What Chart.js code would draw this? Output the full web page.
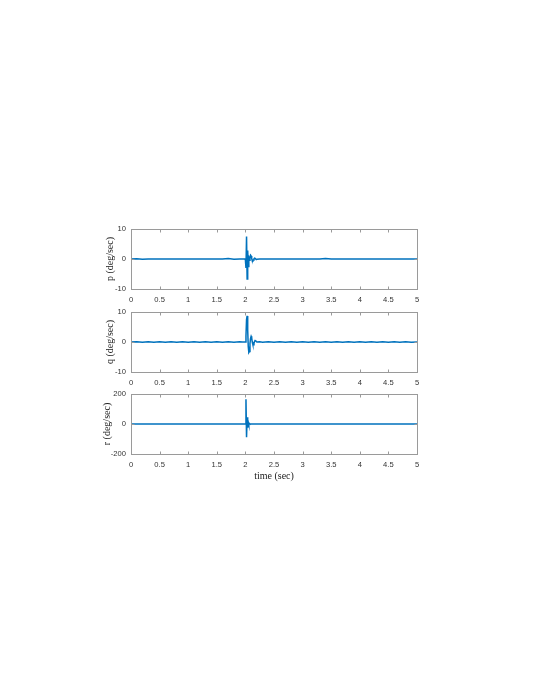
<!DOCTYPE html>
<html>
<head>
<meta charset="utf-8">
<script src="https://cdn.jsdelivr.net/npm/chart.js@4/dist/chart.umd.min.js"></script>
<style>
  html, body { margin: 0; padding: 0; background: #ffffff; }
  body { width: 536px; height: 693px; position: relative; overflow: hidden; }
  .panel { position: absolute; left: 0; width: 536px; }
</style>
</head>
<body>
<div class="panel" id="w0"><canvas id="c0"></canvas></div>
<div class="panel" id="w1"><canvas id="c1"></canvas></div>
<div class="panel" id="w2"><canvas id="c2"></canvas></div>
<script>
// ---- data ----
const time = [
  0, 0.1, 0.2, 0.3, 0.4, 0.5, 0.6, 0.7, 0.8, 0.9,
  1.0, 1.1, 1.2, 1.3, 1.4, 1.5, 1.6, 1.7, 1.8, 1.9,
  1.95, 1.99, 2.0, 2.01, 2.02, 2.03, 2.04, 2.05, 2.06, 2.07,
  2.08, 2.09, 2.1, 2.11, 2.12, 2.13, 2.14, 2.15, 2.16, 2.17,
  2.18, 2.2, 2.25, 2.3, 2.4, 2.5, 2.6, 2.7, 2.8, 2.9,
  3.0, 3.1, 3.2, 3.3, 3.4, 3.5, 3.6, 3.7, 3.8, 3.9,
  4.0, 4.1, 4.2, 4.3, 4.4, 4.5, 4.6, 4.7, 4.8, 4.9, 5.0
];
const pRate = [
  0, 0.05, -0.05, 0.03, -0.03, 0.03, 0, -0.03, 0.03, 0,
  0.03, -0.03, 0, 0.03, -0.03, 0.03, 0, 0.15, -0.05, 0.03,
  0, 0, -0.3, -3.0, 7.5, -6.7, 2.8, -2.5, 0.3, -0.4,
  0.8, 1.3, 1.0, 0.2, -0.5, -0.6, -0.3, 0.1, 0.3, 0.2,
  0, -0.1, 0.03, 0, -0.03, 0, 0.03, -0.03, 0, 0.03,
  -0.03, 0, 0.03, 0, 0.15, -0.03, 0, 0.03, -0.03, 0,
  0.03, 0, -0.03, 0, 0.03, 0, -0.03, 0, 0.03, 0, 0
];
const qRate = [
  0, 0.05, -0.05, 0.05, -0.05, 0.05, -0.05, 0.05, -0.05, 0.05,
  -0.05, 0.05, -0.05, 0.05, -0.05, 0.05, -0.05, 0.05, -0.05, 0.05,
  0, 0, 0, 2.0, 7.5, 8.7, 4.0, -1.5, -3.5, -3.2,
  -0.5, 1.2, 1.9, 1.4, 0, -0.8, -0.9, -0.4, 0.2, 0.5,
  0.4, 0, 0.05, -0.05, 0.05, -0.05, 0.05, -0.05, 0.05, -0.05,
  0.05, -0.05, 0.05, -0.05, 0.1, -0.05, 0.05, -0.05, 0.05, -0.05,
  0.05, -0.05, 0.05, -0.05, 0.05, -0.05, 0.05, -0.05, 0.05, -0.05, 0
];
const rRate = [
  0, 0, 0, 0, 0, 0, 0, 0, 0, 0,
  0, 0, 0, 0, 0, 0, 0, 0, 0, 0,
  0, 0, 0, 165, -88, 45, -25, 12, -5, 2,
  0, 0, 0, 0, 0, 0, 0, 0, 0, 0,
  0, 0, 0, 0, 0, 0, 0, 0, 0, 0,
  0, 0, 0, 0, 0, 0, 0, 0, 0, 0,
  0, 0, 0, 0, 0, 0, 0, 0, 0, 0, 0
];
const yLabels = ['p (deg/sec)', 'q (deg/sec)', 'r (deg/sec)'];
const yLimits = [[-10, 10], [-10, 10], [-200, 200]];
const yStep = [10, 10, 200];
const xLabel = 'time (sec)';
const xTickStep = 0.5;

// ---- layout / style ----
const panels = [
  { top: 229, h: 60, series: pRate, titlePad: 4, xTitle: false },
  { top: 312, h: 60, series: qRate, titlePad: 4, xTitle: false },
  { top: 394, h: 60, series: rRate, titlePad: 1, xTitle: true }
];
const lineColor = '#0072BD';
const boxColor = '#9a9a9a';
const tickColor = '#333333';
const tickFont = { family: '"Liberation Sans", Arial, sans-serif', size: 7.6 };
const titleFont = { family: '"Liberation Serif", "Times New Roman", serif', size: 10 };
const fmt = v => String(Math.round(v * 10) / 10);

const boxPlugin = {
  id: 'matlabBox',
  afterDraw(chart) {
    const { ctx, chartArea: a, scales } = chart;
    const tl = 3;
    const L = Math.round(a.left) + 0.5, R = Math.round(a.right) + 0.5;
    const T = Math.round(a.top) + 0.5, B = Math.round(a.bottom) + 0.5;
    ctx.save();
    ctx.strokeStyle = boxColor;
    ctx.lineWidth = 1;
    ctx.strokeRect(L, T, R - L, B - T);
    ctx.beginPath();
    scales.x.ticks.forEach(t => {
      const px = Math.round(scales.x.getPixelForValue(t.value)) + 0.5;
      ctx.moveTo(px, B); ctx.lineTo(px, B - tl);
      ctx.moveTo(px, T); ctx.lineTo(px, T + tl);
    });
    scales.y.ticks.forEach(t => {
      const py = Math.round(scales.y.getPixelForValue(t.value)) + 0.5;
      ctx.moveTo(L, py); ctx.lineTo(L + tl, py);
      ctx.moveTo(R, py); ctx.lineTo(R - tl, py);
    });
    ctx.stroke();
    ctx.restore();
  }
};

panels.forEach((p, i) => {
  const wrap = document.getElementById('w' + i);
  const H = 10 + p.h + 40;
  wrap.style.top = (p.top - 10) + 'px';
  wrap.style.height = H + 'px';
  const data = time.map((t, k) => ({ x: t, y: p.series[k] }));
  new Chart(document.getElementById('c' + i), {
    type: 'line',
    data: {
      datasets: [{
        data: data,
        borderColor: lineColor,
        borderWidth: 1.5,
        pointRadius: 0,
        tension: 0,
        fill: false
      }]
    },
    options: {
      responsive: true,
      maintainAspectRatio: false,
      animation: false,
      events: [],
      layout: { padding: { top: 10, left: 100, right: 119, bottom: 0 } },
      plugins: { legend: { display: false }, tooltip: { enabled: false } },
      scales: {
        x: {
          type: 'linear',
          min: 0, max: 5,
          grid: { display: false, drawTicks: false },
          border: { display: false },
          ticks: { stepSize: xTickStep, color: tickColor, font: tickFont, padding: 6, maxRotation: 0, callback: fmt },
          title: { display: p.xTitle, text: xLabel, color: '#222', font: titleFont, padding: { top: 0, bottom: 12 } },
          afterFit(s) { s.height = 40; }
        },
        y: {
          type: 'linear',
          min: yLimits[i][0], max: yLimits[i][1],
          grid: { display: false, drawTicks: false },
          border: { display: false },
          ticks: { stepSize: yStep[i], color: tickColor, font: tickFont, padding: 5, callback: fmt },
          title: { display: true, text: yLabels[i], color: '#222', font: titleFont, padding: { top: p.titlePad, bottom: 0 } },
          afterFit(s) { s.width = 31; }
        }
      }
    },
    plugins: [boxPlugin]
  });
});
</script>
</body>
</html>
